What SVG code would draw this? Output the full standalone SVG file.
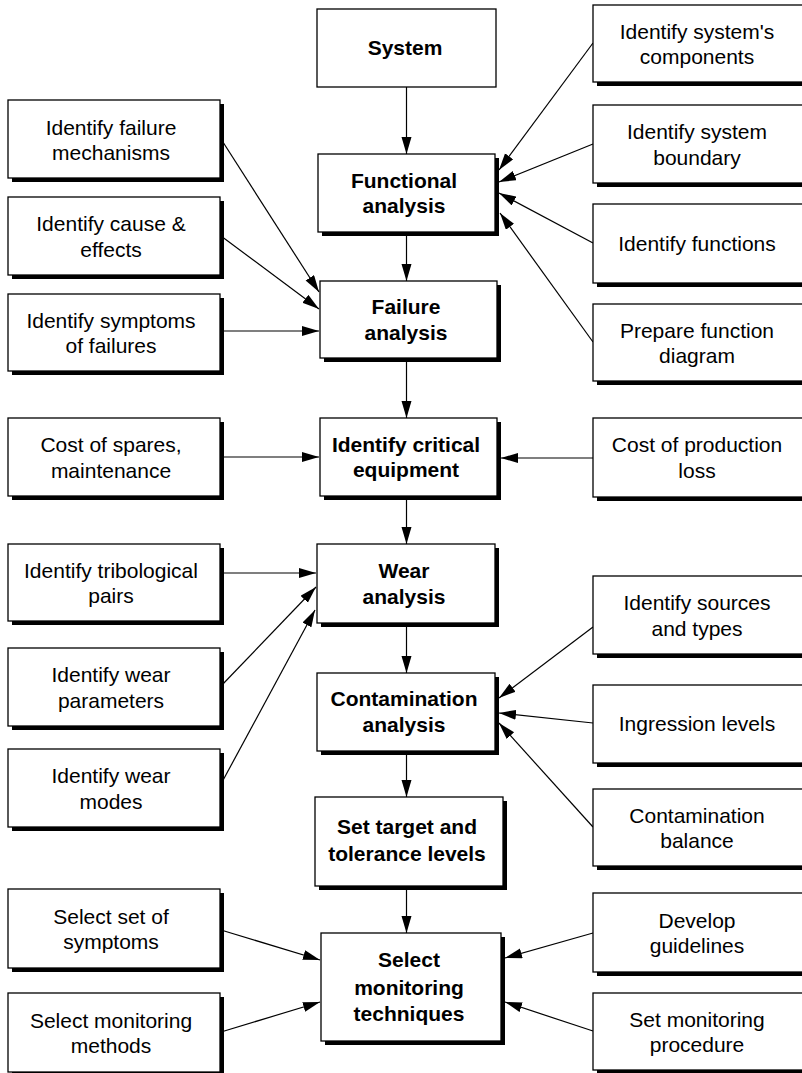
<svg xmlns="http://www.w3.org/2000/svg" width="802" height="1073" viewBox="0 0 802 1073">
  <style>
    .sh { fill: #000; }
    .box { fill: #fff; stroke: #000; stroke-width: 1.3; }
    .t { font-family: "Liberation Sans", Arial, Helvetica, sans-serif; font-size: 21px; text-anchor: middle; fill: #000; }
    .b { font-weight: bold; }
    .c { stroke: #000; stroke-width: 1.2; fill: none; marker-end: url(#ah); }
  </style>
  <defs>
    <marker id="ah" markerUnits="userSpaceOnUse" markerWidth="18" markerHeight="11" refX="17" refY="5" orient="auto">
      <path d="M0,0 L17,5 L0,10 Z" fill="#000"/>
    </marker>
  </defs>
  <rect width="802" height="1073" fill="#fff"/>

  <!-- connectors -->
  <g id="connectors">
    <!-- main flow -->
    <line class="c" x1="406.5" y1="87" x2="406.5" y2="154"/>
    <line class="c" x1="406.5" y1="232" x2="406.5" y2="281"/>
    <line class="c" x1="406.5" y1="358" x2="406.5" y2="418"/>
    <line class="c" x1="406.5" y1="496" x2="406.5" y2="544"/>
    <line class="c" x1="406.5" y1="623" x2="406.5" y2="673"/>
    <line class="c" x1="406.5" y1="751" x2="406.5" y2="797"/>
    <line class="c" x1="406.5" y1="886" x2="406.5" y2="933"/>
    <!-- left inputs -->
    <line class="c" x1="221" y1="139" x2="319" y2="292"/>
    <line class="c" x1="221" y1="236" x2="319" y2="309"/>
    <line class="c" x1="221" y1="331" x2="319" y2="331"/>
    <line class="c" x1="221" y1="457" x2="319" y2="457"/>
    <line class="c" x1="221" y1="573" x2="316" y2="573"/>
    <line class="c" x1="221" y1="686" x2="316" y2="587"/>
    <line class="c" x1="221" y1="784" x2="315" y2="610"/>
    <line class="c" x1="221" y1="930" x2="320" y2="960"/>
    <line class="c" x1="221" y1="1032" x2="320" y2="1002"/>
    <!-- right inputs -->
    <line class="c" x1="593" y1="43" x2="499" y2="170"/>
    <line class="c" x1="593" y1="144" x2="499" y2="182"/>
    <line class="c" x1="593" y1="243" x2="499" y2="193"/>
    <line class="c" x1="593" y1="342" x2="500" y2="213"/>
    <line class="c" x1="593" y1="458" x2="501" y2="458"/>
    <line class="c" x1="593" y1="627" x2="499" y2="698"/>
    <line class="c" x1="593" y1="723" x2="499" y2="713"/>
    <line class="c" x1="593" y1="827" x2="499" y2="723"/>
    <line class="c" x1="593" y1="933" x2="505" y2="958"/>
    <line class="c" x1="593" y1="1031" x2="505" y2="1002"/>
  </g>

  <!-- main column -->
  <g id="system">
    <rect class="box" x="317" y="9" width="179" height="78"/>
    <text class="t b" x="405" y="55">System</text>
  </g>
  <g id="functional-analysis">
    <rect class="sh" x="322" y="158" width="177" height="78"/>
    <rect class="box" x="318" y="154" width="177" height="78"/>
    <text class="t b" x="404" y="187.5">Functional</text>
    <text class="t b" x="404" y="213">analysis</text>
  </g>
  <g id="failure-analysis">
    <rect class="sh" x="324" y="285" width="177" height="77"/>
    <rect class="box" x="320" y="281" width="177" height="77"/>
    <text class="t b" x="406" y="314">Failure</text>
    <text class="t b" x="406" y="339.5">analysis</text>
  </g>
  <g id="critical-equipment">
    <rect class="sh" x="324" y="422" width="177" height="78"/>
    <rect class="box" x="320" y="418" width="177" height="78"/>
    <text class="t b" x="406" y="451.5">Identify critical</text>
    <text class="t b" x="406" y="477">equipment</text>
  </g>
  <g id="wear-analysis">
    <rect class="sh" x="321" y="548" width="178" height="79"/>
    <rect class="box" x="317" y="544" width="178" height="79"/>
    <text class="t b" x="404" y="578">Wear</text>
    <text class="t b" x="404" y="603.5">analysis</text>
  </g>
  <g id="contamination-analysis">
    <rect class="sh" x="321" y="677" width="178" height="78"/>
    <rect class="box" x="317" y="673" width="178" height="78"/>
    <text class="t b" x="404" y="706">Contamination</text>
    <text class="t b" x="404" y="732">analysis</text>
  </g>
  <g id="target-tolerance">
    <rect class="sh" x="319" y="801" width="188" height="89"/>
    <rect class="box" x="315" y="797" width="188" height="89"/>
    <text class="t b" x="407" y="833.5">Set target and</text>
    <text class="t b" x="407" y="860.5">tolerance levels</text>
  </g>
  <g id="monitoring-techniques">
    <rect class="sh" x="325" y="937" width="180" height="108"/>
    <rect class="box" x="321" y="933" width="180" height="108"/>
    <text class="t b" x="409" y="967">Select</text>
    <text class="t b" x="409" y="994.5">monitoring</text>
    <text class="t b" x="409" y="1021">techniques</text>
  </g>

  <!-- left column -->
  <g id="failure-mechanisms">
    <rect class="sh" x="12" y="104" width="212" height="78"/>
    <rect class="box" x="8" y="100" width="212" height="78"/>
    <text class="t" x="111" y="134.5">Identify failure</text>
    <text class="t" x="111" y="159.5">mechanisms</text>
  </g>
  <g id="cause-effects">
    <rect class="sh" x="12" y="201" width="212" height="78"/>
    <rect class="box" x="8" y="197" width="212" height="78"/>
    <text class="t" x="111" y="231">Identify cause &amp;</text>
    <text class="t" x="111" y="256.5">effects</text>
  </g>
  <g id="symptoms-of-failures">
    <rect class="sh" x="12" y="298" width="212" height="77"/>
    <rect class="box" x="8" y="294" width="212" height="77"/>
    <text class="t" x="111" y="327.5">Identify symptoms</text>
    <text class="t" x="111" y="353">of failures</text>
  </g>
  <g id="cost-spares">
    <rect class="sh" x="12" y="422" width="212" height="78"/>
    <rect class="box" x="8" y="418" width="212" height="78"/>
    <text class="t" x="111" y="452">Cost of spares,</text>
    <text class="t" x="111" y="477.5">maintenance</text>
  </g>
  <g id="tribological-pairs">
    <rect class="sh" x="12" y="548" width="212" height="77"/>
    <rect class="box" x="8" y="544" width="212" height="77"/>
    <text class="t" x="111" y="577.5">Identify tribological</text>
    <text class="t" x="111" y="603">pairs</text>
  </g>
  <g id="wear-parameters">
    <rect class="sh" x="12" y="652" width="212" height="78"/>
    <rect class="box" x="8" y="648" width="212" height="78"/>
    <text class="t" x="111" y="682">Identify wear</text>
    <text class="t" x="111" y="707.5">parameters</text>
  </g>
  <g id="wear-modes">
    <rect class="sh" x="12" y="753" width="212" height="78"/>
    <rect class="box" x="8" y="749" width="212" height="78"/>
    <text class="t" x="111" y="783">Identify wear</text>
    <text class="t" x="111" y="808.5">modes</text>
  </g>
  <g id="set-of-symptoms">
    <rect class="sh" x="12" y="893" width="212" height="79"/>
    <rect class="box" x="8" y="889" width="212" height="79"/>
    <text class="t" x="111" y="924">Select set of</text>
    <text class="t" x="111" y="949">symptoms</text>
  </g>
  <g id="monitoring-methods">
    <rect class="sh" x="12" y="997" width="212" height="79"/>
    <rect class="box" x="8" y="993" width="212" height="79"/>
    <text class="t" x="111" y="1027.5">Select monitoring</text>
    <text class="t" x="111" y="1053">methods</text>
  </g>

  <!-- right column -->
  <g id="system-components">
    <rect class="sh" x="597" y="9" width="213" height="77"/>
    <rect class="box" x="593" y="5" width="213" height="77"/>
    <text class="t" x="697" y="38.5">Identify system's</text>
    <text class="t" x="697" y="64">components</text>
  </g>
  <g id="system-boundary">
    <rect class="sh" x="597" y="109" width="213" height="78"/>
    <rect class="box" x="593" y="105" width="213" height="78"/>
    <text class="t" x="697" y="139">Identify system</text>
    <text class="t" x="697" y="164.5">boundary</text>
  </g>
  <g id="functions">
    <rect class="sh" x="597" y="208" width="213" height="79"/>
    <rect class="box" x="593" y="204" width="213" height="79"/>
    <text class="t" x="697" y="250.5">Identify functions</text>
  </g>
  <g id="function-diagram">
    <rect class="sh" x="597" y="308" width="213" height="77"/>
    <rect class="box" x="593" y="304" width="213" height="77"/>
    <text class="t" x="697" y="337.5">Prepare function</text>
    <text class="t" x="697" y="363">diagram</text>
  </g>
  <g id="production-loss">
    <rect class="sh" x="597" y="422" width="213" height="79"/>
    <rect class="box" x="593" y="418" width="213" height="79"/>
    <text class="t" x="697" y="452">Cost of production</text>
    <text class="t" x="697" y="477.5">loss</text>
  </g>
  <g id="sources-types">
    <rect class="sh" x="597" y="580" width="213" height="78"/>
    <rect class="box" x="593" y="576" width="213" height="78"/>
    <text class="t" x="697" y="610">Identify sources</text>
    <text class="t" x="697" y="635.5">and types</text>
  </g>
  <g id="ingression-levels">
    <rect class="sh" x="597" y="689" width="213" height="78"/>
    <rect class="box" x="593" y="685" width="213" height="78"/>
    <text class="t" x="697" y="731">Ingression levels</text>
  </g>
  <g id="contamination-balance">
    <rect class="sh" x="597" y="793" width="213" height="77"/>
    <rect class="box" x="593" y="789" width="213" height="77"/>
    <text class="t" x="697" y="822.5">Contamination</text>
    <text class="t" x="697" y="848">balance</text>
  </g>
  <g id="develop-guidelines">
    <rect class="sh" x="597" y="897" width="213" height="79"/>
    <rect class="box" x="593" y="893" width="213" height="79"/>
    <text class="t" x="697" y="927.5">Develop</text>
    <text class="t" x="697" y="953">guidelines</text>
  </g>
  <g id="monitoring-procedure">
    <rect class="sh" x="597" y="997" width="213" height="77"/>
    <rect class="box" x="593" y="993" width="213" height="77"/>
    <text class="t" x="697" y="1026.5">Set monitoring</text>
    <text class="t" x="697" y="1052">procedure</text>
  </g>
</svg>
